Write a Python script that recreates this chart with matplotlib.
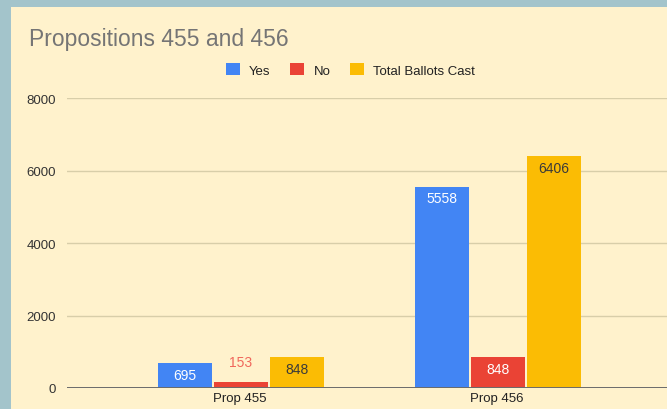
import matplotlib
matplotlib.use("Agg")
import matplotlib.pyplot as plt
from matplotlib.patches import Rectangle, Patch
import numpy as np

plt.rcParams['font.family'] = ['Liberation Sans', 'DejaVu Sans']

categories = ["Prop 455", "Prop 456"]
yes_votes = [695, 5558]
no_votes = [153, 848]
total_ballots = [848, 6406]
series_names = ["Yes", "No", "Total Ballots Cast"]
y_ticks = [0, 2000, 4000, 6000, 8000]

blue = "#4285F4"
red = "#EA4335"
yellow = "#FBBC04"

fig = plt.figure(figsize=(6.67, 4.10), dpi=100)
fig.patch.set_facecolor("#A3C4CB")
# cream chart card, cut off at right and bottom
fig.patches.append(Rectangle((11 / 667, 0), 1, (410 - 8) / 410,
                             transform=fig.transFigure, facecolor="#FFF2CC",
                             edgecolor="none", zorder=-10))

ax = fig.add_axes([67 / 667, 21 / 410, 1 - 67 / 667, 0.7073])
ax.set_facecolor("none")

x = np.arange(len(categories))
w = 0.21
off = 0.218
series = [yes_votes, no_votes, total_ballots]
colors = [blue, red, yellow]
all_bars = []
for i, (vals, c) in enumerate(zip(series, colors)):
    bars = ax.bar(x + (i - 1) * off + 0.003, vals, w, color=c, zorder=3)
    all_bars.append(bars)

# value labels
for i, bars in enumerate(all_bars):
    for b, v in zip(bars, series[i]):
        cx = b.get_x() + b.get_width() / 2
        top = b.get_height()
        if v < 300:
            ax.annotate(str(v), (cx, top), xytext=(0, 15), textcoords="offset points",
                        ha="center", va="center", fontsize=10, color="#F0675B")
        else:
            tc = "#3a3a3a" if i == 2 else "white"
            ax.annotate(str(v), (cx, top), xytext=(0, -8.5), textcoords="offset points",
                        ha="center", va="center", fontsize=10, color=tc)

ax.set_xlim(-0.673, 1.661)
ax.set_ylim(0, 8000)
ax.set_yticks(y_ticks)
ax.set_yticklabels([str(t) for t in y_ticks], fontsize=9.5, color="#333333")
ax.set_xticks(x)
ax.set_xticklabels(categories, fontsize=9.5, color="#222222")
ax.tick_params(length=0)
ax.tick_params(axis="y", pad=8)
ax.tick_params(axis="x", pad=3)
ax.grid(axis="y", color="#D8CEA9", linewidth=1, zorder=1)
ax.axhline(0, color="#6B6B6B", linewidth=1.4, zorder=4)
for s in ax.spines.values():
    s.set_visible(False)

fig.text(29 / 667, (410 - 46) / 410, "Propositions 455 and 456", fontsize=16.5,
         color="#757575", va="baseline", ha="left")

handles = [Patch(facecolor=c, edgecolor="none") for c in colors]
fig.legend(handles, series_names, loc="center", bbox_to_anchor=(0.5255, (410 - 71) / 410),
           ncol=3, frameon=False, fontsize=9.5, handlelength=1.05, handleheight=1.05,
           handletextpad=0.7, columnspacing=1.5, labelcolor="#222222")

plt.savefig("out.png", dpi=100, facecolor=fig.get_facecolor())
